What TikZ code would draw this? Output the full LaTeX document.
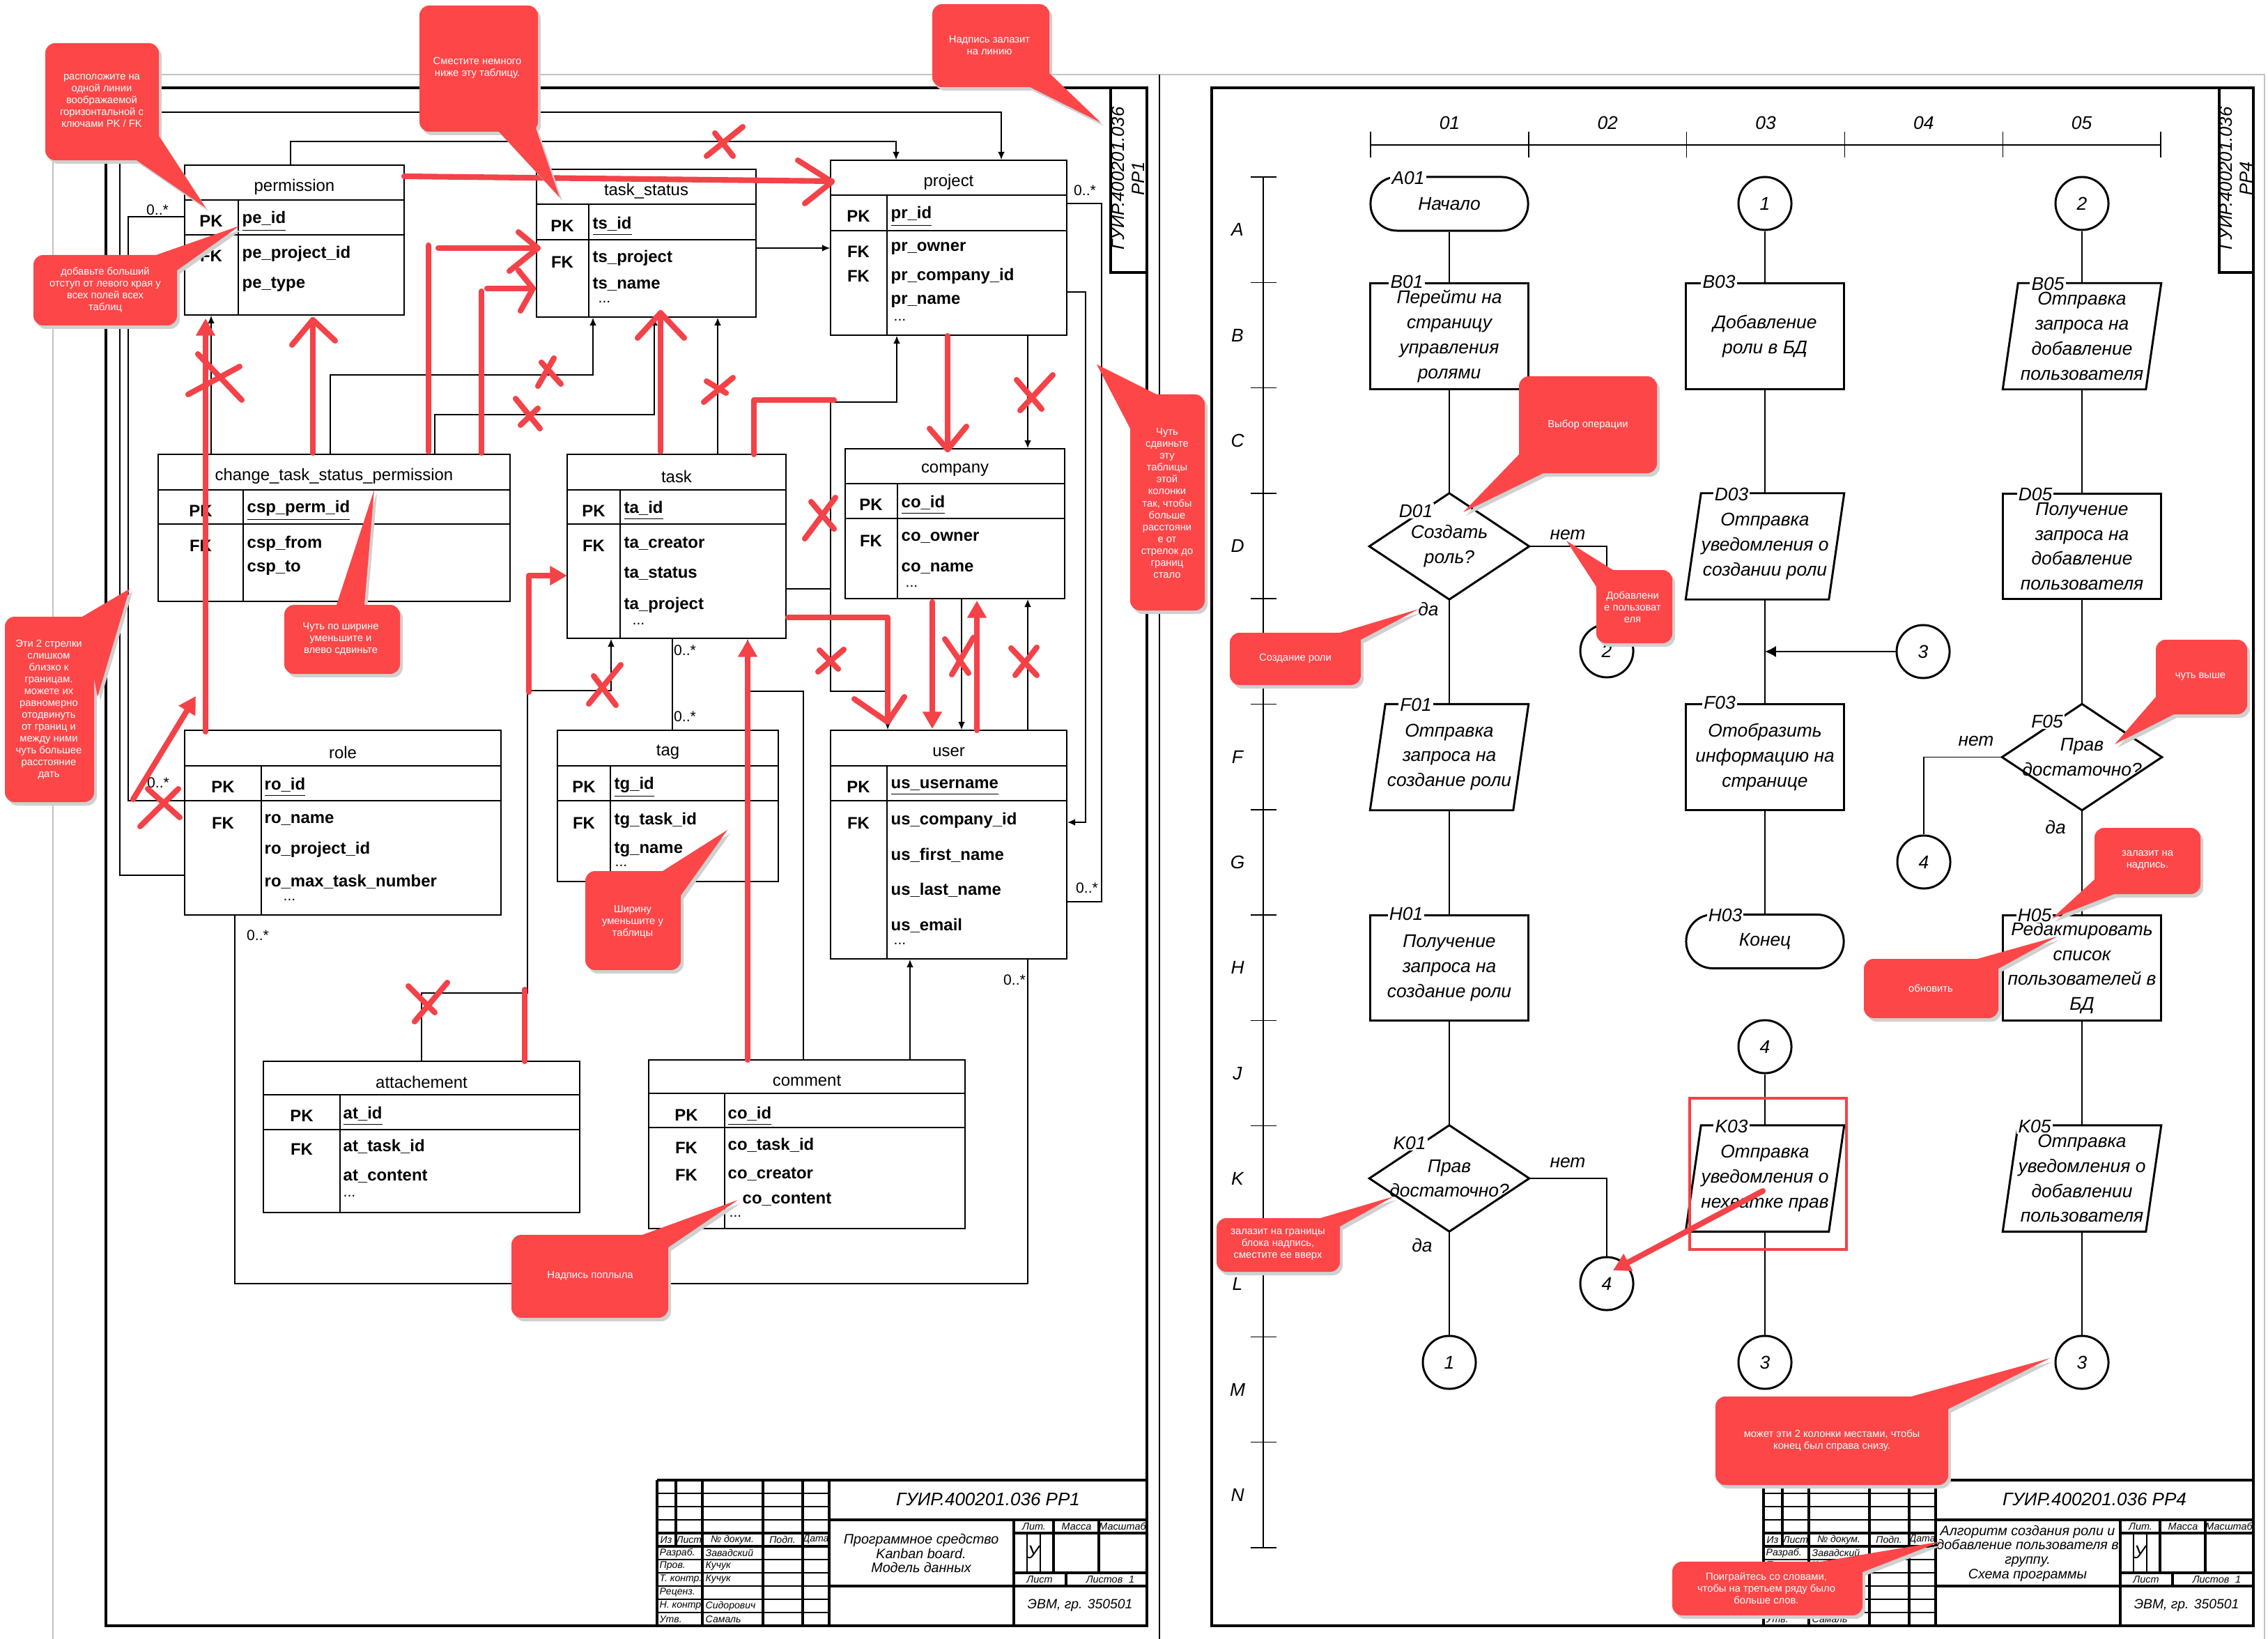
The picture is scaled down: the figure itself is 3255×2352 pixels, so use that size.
\documentclass[tikz,border=0pt]{standalone}
\usepackage{fontspec}
\setmainfont{Liberation Sans}
\usetikzlibrary{arrows.meta,fit}
\definecolor{annred}{RGB}{243,66,72}
\definecolor{callred}{RGB}{252,70,72}
\definecolor{shadowgray}{RGB}{208,208,208}
\definecolor{pagegrey}{RGB}{195,195,195}
\tikzset{
  frame/.style={line width=1.2pt},
  tbl/.style={draw, line width=0.55pt, inner sep=0pt},
  tline/.style={line width=0.55pt},
  ttitle/.style={font=\fontsize{6.8}{8}\selectfont, inner sep=0pt},
  keyl/.style={font=\fontsize{6.8}{8}\selectfont\bfseries, inner sep=0pt},
  fldbase/.style={font=\fontsize{6.8}{8}\selectfont\bfseries, inner sep=0pt, anchor=west},
  fld/.style={fldbase, yshift=-0.2mm},
  ufld/.style={fldbase, yshift=-0.6mm},
  dotsl/.style={font=\fontsize{6}{7}\selectfont, inner sep=0pt, anchor=west},
  mult/.style={font=\fontsize{6}{7}\selectfont, inner sep=0pt},
  conn/.style={line width=0.35pt},
  arr/.style={conn, -{Latex[length=3.2pt,width=2.8pt]}},
  stamp/.style={font=\fontsize{7.3}{8.5}\selectfont\itshape, rotate=90, align=center, inner sep=0pt},
  fc/.style={font=\fontsize{7.5}{10.2}\selectfont\itshape, align=center, inner sep=0pt},
  blk/.style={line width=0.85pt},
  proc/.style={fc, draw, blk, minimum width=2.26cm, minimum height=1.51cm},
  term/.style={fc, draw, blk, rounded corners=3.8mm, minimum width=2.26cm, minimum height=0.77cm},
  shapebox/.style={fc, minimum width=2.26cm, minimum height=1.51cm},
  conncirc/.style={fc, draw, circle, line width=0.85pt, minimum size=0.76cm},
  flab/.style={fc, fill=white, inner sep=0.6pt},
  fl/.style={line width=0.35pt},
  axisl/.style={line width=0.4pt},
  rl/.style={draw=annred, line width=2.3pt, line cap=round, line join=round},
  rla/.style={rl, -{Triangle[length=7pt,width=7.5pt]}},
  ctext/.style={font=\fontsize{4.2}{4.84}\selectfont, text=white, align=center, inner sep=0pt},
  tbt/.style={line width=1.1pt},
  tbn/.style={line width=0.6pt},
  tbs/.style={font=\fontsize{4}{4.5}\selectfont\itshape, inner sep=0pt},
}
% ER table: name, x1, y1, x2, y2, divider x, header bottom y, pk bottom y, title
\newcommand\ertab[9]{%
  \node[tbl, fit={(#2,#3) (#4,#5)}] (#1) {};
  \draw[tline] (#2,#7) -- (#4,#7) (#2,#8) -- (#4,#8) (#6,#7) -- (#6,#5);
  \node[ttitle] (#1-title) at ({(#2+#4)/2},{(#3+#7)/2+6}) {#9};
}
\newcommand\iobox[4]{%
  \node[shapebox] (#1) at (#2,#3) {#4};
  \draw[blk] ([xshift=0.22cm]#1.north west) -- (#1.north east) -- ([xshift=-0.22cm]#1.south east) -- (#1.south west) -- cycle;
}
\newcommand\decbox[4]{%
  \node[shapebox, minimum width=2.28cm] (#1) at (#2,#3) {#4};
  \draw[blk] (#1.north) -- (#1.east) -- (#1.south) -- (#1.west) -- cycle;
}
\newcommand\rx[4]{\draw[rl] (#1) -- (#2); \draw[rl] (#3) -- (#4);}
\newcommand\callout[5]{%
  \fill[shadowgray, shift={(4,5)}, rounded corners=1.4mm] (#1) rectangle (#2);
  \fill[shadowgray, shift={(4,5)}] (#3) -- (#4) -- (#5) -- cycle;
  \fill[callred, rounded corners=1.4mm] (#1) rectangle (#2);
  \fill[callred] (#3) -- (#4) -- (#5) -- cycle;
}
\newcommand\titleblk[4]{%
\begin{scope}[shift={(#1,0)}]
  \draw[tbt] (943,2124) -- (1646,2124);
  \draw[tbt] (943,2124) -- (943,2333);
  \draw[tbt] (970,2124) -- (970,2219);
  \foreach \xx in {1008,1095,1152,1190} {\draw[tbt] (\xx,2124) -- (\xx,2333);}
  \foreach \yy in {2143,2162,2181,2238,2257,2276,2295,2314} {\draw[tbn] (943,\yy) -- (1190,\yy);}
  \draw[tbt] (943,2200) -- (1190,2200);
  \draw[tbt] (943,2219) -- (1190,2219);
  \draw[tbt] (1190,2181) -- (1646,2181);
  \draw[tbt] (1190,2276) -- (1646,2276);
  \draw[tbt] (1455,2200) -- (1646,2200);
  \draw[tbt] (1455,2257) -- (1646,2257);
  \draw[tbt] (1455,2181) -- (1455,2333);
  \draw[tbt] (1512,2181) -- (1512,2257);
  \draw[tbt] (1577,2181) -- (1577,2257);
  \draw[tbt] (1530,2257) -- (1530,2276);
  \draw[tbn] (1474,2200) -- (1474,2257);
  \draw[tbn] (1493,2200) -- (1493,2257);
  \node[tbs] (#2-iz) at (956,2209.5) {Из};
  \node[tbs] (#2-ls) at (989,2209.5) {Лист};
  \node[tbs] (#2-nd) at (1051,2209.5) {№ докум.};
  \node[tbs] (#2-pd) at (1123,2209.5) {Подп.};
  \node[tbs] (#2-dt) at (1171,2209.5) {Дата};
  \node[tbs, anchor=west] (#2-r1) at (946,2228.5) {Разраб.};
  \node[tbs, anchor=west] (#2-r2) at (946,2247.5) {Пров.};
  \node[tbs, anchor=west] (#2-r3) at (946,2266.5) {Т. контр.};
  \node[tbs, anchor=west] (#2-r4) at (946,2285.5) {Реценз.};
  \node[tbs, anchor=west] (#2-r5) at (946,2304.5) {Н. контр.};
  \node[tbs, anchor=west] (#2-r6) at (946,2323.5) {Утв.};
  \node[tbs, anchor=west] (#2-s1) at (1012,2228.5) {Завадский};
  \node[tbs, anchor=west] (#2-s2) at (1012,2247.5) {Кучук};
  \node[tbs, anchor=west] (#2-s3) at (1012,2266.5) {Кучук};
  \node[tbs, anchor=west] (#2-s5) at (1012,2304.5) {Сидорович};
  \node[tbs, anchor=west] (#2-s6) at (1012,2323.5) {Самаль};
  \node[font=\fontsize{7.4}{8}\selectfont\itshape, inner sep=0pt] (#2-des) at (1418,2152) {#3};
  \node[font=\fontsize{5.6}{5.9}\selectfont\itshape, align=center, inner sep=0pt] (#2-name) at (1322,2229) {#4};
  \node[tbs, font=\fontsize{4.1}{4.5}\selectfont\itshape] (#2-lit) at (1484,2190.5) {Лит.};
  \node[tbs, font=\fontsize{4.1}{4.5}\selectfont\itshape] (#2-mas) at (1545,2190.5) {Масса};
  \node[tbs, font=\fontsize{4.1}{4.5}\selectfont\itshape] (#2-msh) at (1611,2190.5) {Масштаб};
  \node[font=\fontsize{7.5}{8}\selectfont\itshape, inner sep=0pt] (#2-u) at (1483,2228) {У};
  \node[tbs, font=\fontsize{4.1}{4.5}\selectfont\itshape] (#2-list) at (1492,2266.5) {Лист};
  \node[tbs, font=\fontsize{4.1}{4.5}\selectfont\itshape] (#2-lists) at (1585,2266.5) {Листов};
  \node[tbs, font=\fontsize{4.1}{4.5}\selectfont\itshape] (#2-one) at (1624,2266.5) {1};
  \node[font=\fontsize{5.5}{6}\selectfont\itshape, inner sep=0pt] (#2-org) at (1550,2304) {ЭВМ, гр. 350501};
\end{scope}}

\begin{document}
\begin{tikzpicture}[x=0.01cm, y=-0.01cm]
\useasboundingbox (0,0) rectangle (3255,2352);
\fill[white] (0,0) rectangle (3255,2352);
\draw[pagegrey, line width=0.5pt] (76,2352) -- (76,107) -- (3250,107) -- (3250,2352);
\draw[line width=0.5pt] (1664,107) -- (1664,2352);
% frames
\draw[frame] (152,126) rectangle (1646,2333);
\draw[frame] (1739,126) rectangle (3234,2333);
\draw[frame] (1594,126) rectangle (1646,391);
\draw[frame] (3185,126) rectangle (3234,391);
\node[stamp] (stamp1) at (1619,256) {ГУИР.400201.036\\РР1};
\node[stamp] (stamp2) at (3209,256) {ГУИР.400201.036\\РР4};

% ================= ER tables =================
\ertab{permission}{265}{237}{580}{452}{342}{287}{337}{permission}
\node[keyl] (permission-pk) at (303,317) {PK};
\node[keyl] (permission-fk) at (303,367) {FK};
\node[ufld] (permission-f1) at (347,312) {\underline{pe\_id}};
\node[fld] (permission-f2) at (347,362) {pe\_project\_id};
\node[fld] (permission-f3) at (347,406) {pe\_type};

\ertab{taskstatus}{770}{243}{1085}{455}{845}{293}{344}{task\_status}
\node[keyl] (taskstatus-pk) at (807,324) {PK};
\node[keyl] (taskstatus-fk) at (807,376) {FK};
\node[ufld] (taskstatus-f1) at (850,319) {\underline{ts\_id}};
\node[fld] (taskstatus-f2) at (850,368) {ts\_project};
\node[fld] (taskstatus-f3) at (850,406) {ts\_name};
\node[dotsl] (taskstatus-d) at (858,433) {...};

\ertab{project}{1192}{230}{1531}{481}{1273}{280}{331}{project}
\node[keyl] (project-pk) at (1232,310) {PK};
\node[keyl] (project-fk1) at (1232,361) {FK};
\node[keyl] (project-fk2) at (1232,396) {FK};
\node[ufld] (project-f1) at (1278,305) {\underline{pr\_id}};
\node[fld] (project-f2) at (1278,355) {pr\_owner};
\node[fld] (project-f3) at (1278,394) {pr\_company\_id};
\node[fld] (project-f4) at (1278,431) {pr\_name};
\node[dotsl] (project-d) at (1282,459) {...};

\ertab{csp}{227}{652}{732}{863}{349}{703}{752}{change\_task\_status\_permission}
\node[keyl] (csp-pk) at (288,733) {PK};
\node[keyl] (csp-fk) at (288,783) {FK};
\node[ufld] (csp-f1) at (354,727) {\underline{csp\_perm\_id}};
\node[fld] (csp-f2) at (354,778) {csp\_from};
\node[fld] (csp-f3) at (354,813) {csp\_to};

\ertab{task}{814}{652}{1128}{916}{890}{703}{752}{task}
\node[keyl] (task-pk) at (852,733) {PK};
\node[keyl] (task-fk) at (852,783) {FK};
\node[ufld] (task-f1) at (895,727) {\underline{ta\_id}};
\node[fld] (task-f2) at (895,778) {ta\_creator};
\node[fld] (task-f3) at (895,821) {ta\_status};
\node[fld] (task-f4) at (895,866) {ta\_project};
\node[dotsl] (task-d) at (907,895) {...};

\ertab{company}{1213}{644}{1528}{859}{1288}{694}{744}{company}
\node[keyl] (company-pk) at (1250,724) {PK};
\node[keyl] (company-fk) at (1250,776) {FK};
\node[ufld] (company-f1) at (1293,719) {\underline{co\_id}};
\node[fld] (company-f2) at (1293,770) {co\_owner};
\node[fld] (company-f3) at (1293,814) {co\_name};
\node[dotsl] (company-d) at (1299,841) {...};

\ertab{role}{265}{1048}{719}{1313}{375}{1099}{1149}{role}
\node[keyl] (role-pk) at (320,1129) {PK};
\node[keyl] (role-fk) at (320,1181) {FK};
\node[ufld] (role-f1) at (379,1124) {\underline{ro\_id}};
\node[fld] (role-f2) at (379,1175) {ro\_name};
\node[fld] (role-f3) at (379,1217) {ro\_project\_id};
\node[fld] (role-f4) at (379,1263) {ro\_max\_task\_number};
\node[dotsl] (role-d) at (406,1291) {...};

\ertab{tag}{800}{1048}{1117}{1265}{876}{1099}{1149}{tag}
\node[keyl] (tag-pk) at (838,1129) {PK};
\node[keyl] (tag-fk) at (838,1181) {FK};
\node[ufld] (tag-f1) at (881,1124) {\underline{tg\_id}};
\node[fld] (tag-f2) at (881,1175) {tg\_task\_id};
\node[fld] (tag-f3) at (881,1217) {tg\_name};
\node[dotsl] (tag-d) at (882,1242) {...};

\ertab{user}{1192}{1048}{1531}{1376}{1273}{1099}{1149}{user}
\node[keyl] (user-pk) at (1232,1129) {PK};
\node[keyl] (user-fk) at (1232,1181) {FK};
\node[ufld] (user-f1) at (1278,1124) {\underline{us\_username}};
\node[fld] (user-f2) at (1278,1175) {us\_company\_id};
\node[fld] (user-f3) at (1278,1225) {us\_first\_name};
\node[fld] (user-f4) at (1278,1275) {us\_last\_name};
\node[fld] (user-f5) at (1278,1326) {us\_email};
\node[dotsl] (user-d) at (1282,1354) {...};

\ertab{attach}{378}{1523}{832}{1740}{488}{1571}{1621}{attachement}
\node[keyl] (attach-pk) at (433,1601) {PK};
\node[keyl] (attach-fk) at (433,1649) {FK};
\node[ufld] (attach-f1) at (492,1596) {\underline{at\_id}};
\node[fld] (attach-f2) at (492,1643) {at\_task\_id};
\node[fld] (attach-f3) at (492,1686) {at\_content};
\node[dotsl] (attach-d) at (492,1716) {...};

\ertab{comment}{931}{1521}{1385}{1763}{1040}{1569}{1618}{comment}
\node[keyl] (comment-pk) at (985,1600) {PK};
\node[keyl] (comment-fk1) at (985,1647) {FK};
\node[keyl] (comment-fk2) at (985,1686) {FK};
\node[ufld] (comment-f1) at (1044,1596) {\underline{co\_id}};
\node[fld] (comment-f2) at (1044,1641) {co\_task\_id};
\node[fld] (comment-f3) at (1044,1683) {co\_creator};
\node[fld] (comment-f4) at (1065,1719) {co\_content};
\node[dotsl] (comment-d) at (1046,1745) {...};

% ================= ER connectors =================
\coordinate (j1) at (1192,845);
\draw[conn] (permission.west |- 0,311) -- (184,311) -- (184,1149) -- (role.west |- 0,1149);
\draw[arr] (role.west |- 0,1256) -- (172,1256) -- (172,161) -- (1437,161) -- (project.north -| 1437,0);
\draw[arr] (permission.north -| 417,0) -- (417,203) -- (1286,203) -- (project.north -| 1286,0);
\draw[arr] (taskstatus.east |- 0,356) -- (project.west |- 0,356);
\draw[conn] (project.east |- 0,292) -- (1581,292) -- (1581,1294) -- (user.east |- 0,1294);
\draw[arr] (project.east |- 0,419) -- (1558,419) -- (1558,1180) -- (user.east |- 0,1180);
\draw[arr] (project.south -| 1475,0) -- (company.north -| 1475,0);
\draw[arr] (task.east |- j1) -- (j1) -- (1192,577) -- (1287,577) -- (project.south -| 1287,0);
\draw[arr] (j1) -- (1192,992) -- (1274,992) -- (user.north -| 1274,0);
\draw[arr] (company.south -| 1380,0) -- (user.north -| 1380,0);
\draw[arr] (user.north -| 1475,0) -- (company.south -| 1475,0);
\draw[arr] (attach.north -| 605,0) -- (605,1425) -- (757,1425) -- (757,991) -- (877,991) -- (task.south -| 877,0);
\draw[conn] (task.south -| 965,0) -- (tag.north -| 965,0);
\draw[arr] (comment.north -| 1153,0) -- (1153,992) -- (1073,992) -- (task.south -| 1073,0);
\draw[arr] (comment.north -| 1306,0) -- (user.south -| 1306,0);
\draw[conn] (role.south -| 337,0) -- (337,1842) -- (1475,1842) -- (user.south -| 1475,0);
\draw[arr] (csp.north -| 303,0) -- (permission.south -| 303,0);
\draw[arr] (csp.north -| 474,0) -- (474,538) -- (851,538) -- (taskstatus.south -| 851,0);
\draw[arr] (csp.north -| 624,0) -- (624,595) -- (939,595) -- (taskstatus.south -| 939,0);
\draw[arr] (task.north -| 1030,0) -- (taskstatus.south -| 1030,0);
\node[mult] (m1) at (226,301) {0..*};
\node[mult] (m2) at (227,1123) {0..*};
\node[mult] (m3) at (1557,273) {0..*};
\node[mult] (m4) at (1560,1274) {0..*};
\node[mult] (m5) at (983,933) {0..*};
\node[mult] (m6) at (983,1028) {0..*};
\node[mult] (m7) at (370,1342) {0..*};
\node[mult] (m8) at (1456,1406) {0..*};

% ================= Flowchart =================
\draw[axisl] (1813,254) -- (1813,2221);
\foreach \i in {0,...,13} {\draw[axisl] (1795,{254+151.3*\i}) -- (1832,{254+151.3*\i});}
\foreach \i/\l in {0/A,1/B,2/C,3/D,5/F,6/G,7/H,8/J,9/K,10/L,11/M,12/N} {\node[fc] (row\l) at (1776,{254+151.3*(\i+0.5)}) {\l};}
\draw[axisl] (1967,208) -- (3101,208);
\foreach \i in {0,...,5} {\draw[axisl] ({1967+226.8*\i},189) -- ({1967+226.8*\i},226);}
\foreach \i/\t in {0/01,1/02,2/03,3/04,4/05} {\node[fc] (col\t) at ({1967+226.8*(\i+0.5)},176) {\t};}

\node[term] (A01) at (2080,292.5) {Начало};
\node[proc] (B01) at (2080,482.5) {Перейти на\\страницу\\управления\\ролями};
\decbox{D01}{2080}{784}{Создать\\роль?}
\iobox{F01}{2080}{1086.5}{Отправка\\запроса на\\создание роли}
\node[proc] (H01) at (2080,1389) {Получение\\запроса на\\создание роли};
\decbox{K01}{2080}{1691}{Прав\\достаточно?}
\node[conncirc] (c1b) at (2080,1955) {1};

\node[conncirc] (c1a) at (2533,292) {1};
\node[proc] (B03) at (2533,482.5) {Добавление\\роли в БД};
\iobox{D03}{2533}{784}{Отправка\\уведомления о\\создании роли}
\node[proc] (F03) at (2533,1086.5) {Отобразить\\информацию на\\странице};
\node[term] (H03) at (2533,1351) {Конец};
\node[conncirc] (c4b) at (2533,1502) {4};
\iobox{K03}{2533}{1691}{Отправка\\уведомления о\\нехватке прав}
\node[conncirc] (c3b) at (2533,1955) {3};

\node[conncirc] (c2a) at (2306,934) {2};
\node[conncirc] (c4a) at (2306,1842) {4};
\node[conncirc] (c3a) at (2760,935) {3};
\node[conncirc] (c4c) at (2761,1237) {4};

\node[conncirc] (c2b) at (2988,292) {2};
\iobox{B05}{2988}{482.5}{Отправка\\запроса на\\добавление\\пользователя}
\node[proc] (D05) at (2988,784) {Получение\\запроса на\\добавление\\пользователя};
\decbox{F05}{2988}{1086.5}{Прав\\достаточно?}
\node[proc] (H05) at (2988,1389) {Редактировать\\список\\пользователей в\\БД};
\iobox{K05}{2988}{1691}{Отправка\\уведомления о\\добавлении\\пользователя}
\node[conncirc] (c3c) at (2988,1955) {3};

\draw[fl] (A01) -- (B01);
\draw[fl] (B01) -- (D01);
\draw[fl] (D01) -- (F01);
\draw[fl] (F01) -- (H01);
\draw[fl] (H01) -- (K01);
\draw[fl] (K01) -- (c1b);
\draw[fl] (D01.east) -| (c2a);
\draw[fl] (K01.east) -| (c4a);
\draw[fl] (c1a) -- (B03);
\draw[fl] (B03) -- (D03);
\draw[fl] (D03) -- (F03);
\draw[fl] (F03) -- (H03);
\draw[fl] (c4b) -- (K03);
\draw[fl] (K03) -- (c3b);
\draw[fl, -{Latex[length=4.5pt,width=4.5pt]}] (c3a.west) -- (c3a.west -| B03.center);
\draw[fl] (c2b) -- (B05);
\draw[fl] (B05) -- (D05);
\draw[fl] (D05) -- (F05);
\draw[fl] (F05) -- (H05);
\draw[fl] (H05) -- (K05);
\draw[fl] (K05) -- (c3c);
\draw[fl] (F05.west) -| (c4c);

\node[fc] (no1) at (2250,768) {нет};
\node[fc] (yes1) at (2050,874) {да};
\node[fc] (no2) at (2250,1669) {нет};
\node[fc] (yes2) at (2041,1787) {да};
\node[fc] (no3) at (2836,1064) {нет};
\node[fc] (yes3) at (2950,1187) {да};

\node[flab] (lA01) at (2021,255) {A01};
\node[flab] (lB01) at (2019,404) {B01};
\node[flab] (lD01) at (2032,733) {D01};
\node[flab] (lF01) at (2032,1011) {F01};
\node[flab] (lH01) at (2018,1311) {H01};
\node[flab] (lK01) at (2023,1640) {K01};
\node[flab] (lB03) at (2467,404) {B03};
\node[flab] (lD03) at (2485,709) {D03};
\node[flab] (lF03) at (2468,1008) {F03};
\node[flab] (lH03) at (2476,1313) {H03};
\node[flab] (lK03) at (2485,1616) {K03};
\node[flab] (lB05) at (2939,407) {B05};
\node[flab] (lD05) at (2921,709) {D05};
\node[flab] (lF05) at (2938,1035) {F05};
\node[flab] (lH05) at (2920,1313) {H05};
\node[flab] (lK05) at (2920,1616) {K05};

% ================= Title blocks =================
\titleblk{0}{tbL}{ГУИР.400201.036 РР1}{Программное средство\\Kanban board.\\Модель данных}
\titleblk{1588}{tbR}{ГУИР.400201.036 РР4}{Алгоритм создания роли и\\добавление пользователя в\\группу.\\Схема программы}

% ================= Red annotations =================
\draw[rl] (580,253) -- (1194,260);
\draw[rl] (1145,230) -- (1194,261) -- (1155,292);
\rx{1014,224}{1066,182}{1026,191}{1052,224}
\rx{270,566}{344,526}{284,508}{347,574}
\rx{795,514}{772,554}{777,520}{805,551}
\rx{740,572}{775,615}{747,610}{772,586}
\rx{1010,577}{1052,542}{1014,547}{1042,564}
\rx{1464,589}{1511,538}{1459,545}{1495,587}
\rx{1155,773}{1199,714}{1164,720}{1197,759}
\rx{1174,964}{1211,932}{1176,933}{1203,960}
\rx{1356,917}{1390,966}{1366,968}{1397,915}
\rx{1451,930}{1488,969}{1457,969}{1488,929}
\rx{845,1010}{891,954}{852,970}{884,1012}
\rx{201,1186}{256,1132}{212,1132}{258,1173}
\rx{595,1466}{642,1410}{586,1415}{624,1453}
\draw[rla] (295,1050) -- (295,457);
\draw[rl] (449,650) -- (449,459); \draw[rl] (419,495) -- (449,459) -- (481,489);
\draw[rl] (615,648) -- (615,352); \draw[rl] (629,356) -- (772,356); \draw[rl] (744,333) -- (772,356) -- (731,389);
\draw[rl] (691,650) -- (691,418); \draw[rl] (699,414) -- (764,414); \draw[rl] (744,388) -- (765,414) -- (747,446);
\draw[rl] (948,648) -- (948,449); \draw[rl] (915,485) -- (948,449) -- (982,485);
\draw[rl] (1082,652) -- (1082,574) -- (1197,574);
\draw[rl] (1360,482) -- (1360,645); \draw[rl] (1334,615) -- (1360,645) -- (1387,612);
\draw[rl] (1131,886) -- (1274,886) -- (1274,1035); \draw[rl] (1226,1003) -- (1274,1036) -- (1298,1000);
\draw[rla] (1338,864) -- (1338,1046);
\draw[rla] (1402,1048) -- (1402,862);
\draw[rla] (1073,1521) -- (1073,918);
\draw[rl] (753,1420) -- (753,1523);
\draw[rla] (191,1147) -- (281,999);
\draw[rla] (759,993) -- (759,826) -- (814,826);
\draw[annred, line width=1pt] (2425,1576) rectangle (2650,1793);
\draw[rla] (2530,1709) -- (2315,1823);

% ================= Callouts =================
\callout{65,62}{228,230}{224,189}{196,230}{295,298}
\node[ctext] (co1) at (146,145) {расположите на\\одной линии\\воображаемой\\горизонтальной с\\ключами PK / FK};
\callout{48,366}{254,467}{224,366}{254,388}{344,324}
\node[ctext] (co2) at (151,416) {добавьте больший\\отступ от левого края у\\всех полей всех\\таблиц};
\callout{602,8}{772,189}{716,189}{768,181}{803,283}
\node[ctext] (co3) at (685,97) {Сместите немного\\ниже эту таблицу.};
\callout{1338,6}{1506,125}{1478,125}{1506,105}{1580,176}
\node[ctext] (co4) at (1420,65) {Надпись залазит\\на линию};
\callout{1622,566}{1729,876}{1622,615}{1660,566}{1574,523}
\node[ctext] (co5) at (1675,722) {Чуть\\сдвиньте\\эту\\таблицы\\этой\\колонки\\так, чтобы\\больше\\расстояни\\е от\\стрелок до\\границ\\стало};
\callout{408,868}{574,967}{483,868}{523,868}{537,703}
\node[ctext] (co6) at (489,917) {Чуть по ширине\\уменьшите и\\влево сдвиньте};
\callout{7,885}{135,1151}{118,885}{140,1000}{186,845}
\node[ctext] (co7) at (70,1018) {Эти 2 стрелки\\слишком\\близко к\\границам.\\можете их\\равномерно\\отодвинуть\\от границ и\\между ними\\чуть большее\\расстояние\\дать};
\callout{840,1250}{977,1392}{951,1250}{977,1285}{1044,1191}
\node[ctext] (co8) at (908,1323) {Ширину\\уменьшите у\\таблицы};
\callout{734,1772}{959,1891}{922,1772}{959,1790}{1059,1722}
\node[ctext] (co9) at (847,1831) {Надпись поплыла};
\callout{2180,540}{2378,679}{2184,648}{2215,679}{2100,735}
\node[ctext] (co10) at (2279,610) {Выбор операции};
\callout{1765,908}{1953,983}{1923,908}{1953,918}{2036,874}
\node[ctext] (co11) at (1859,945) {Создание роли};
\callout{2291,818}{2400,923}{2291,842}{2315,818}{2248,776}
\node[ctext] (co12) at (2343,871) {Добавлени\\е пользоват\\еля};
\callout{3094,918}{3225,1025}{3094,1000}{3120,1025}{3035,1068}
\node[ctext] (co13) at (3158,971) {чуть выше};
\callout{3006,1188}{3158,1283}{3006,1262}{3034,1283}{2945,1318}
\node[ctext] (co14) at (3082,1234) {залазит на\\надпись.};
\callout{2675,1376}{2868,1461}{2838,1376}{2868,1390}{2952,1344}
\node[ctext] (co15) at (2771,1418) {обновить};
\callout{1746,1748}{1923,1825}{1895,1748}{1923,1760}{2000,1717}
\node[ctext] (co16) at (1834,1786) {залазит на границы\\блока надпись,\\сместите ее вверх};
\callout{2462,2004}{2796,2131}{2743,2004}{2796,2022}{2942,1949}
\node[ctext] (co17) at (2629,2067) {может эти 2 колонки местами, чтобы\\конец был справа снизу.};
\callout{2400,2241}{2673,2318}{2613,2241}{2673,2256}{2786,2212}
\node[ctext] (co18) at (2535,2279) {Поиграйтесь со словами,\\чтобы на третьем ряду было\\больше слов.};
\end{tikzpicture}
\end{document}
